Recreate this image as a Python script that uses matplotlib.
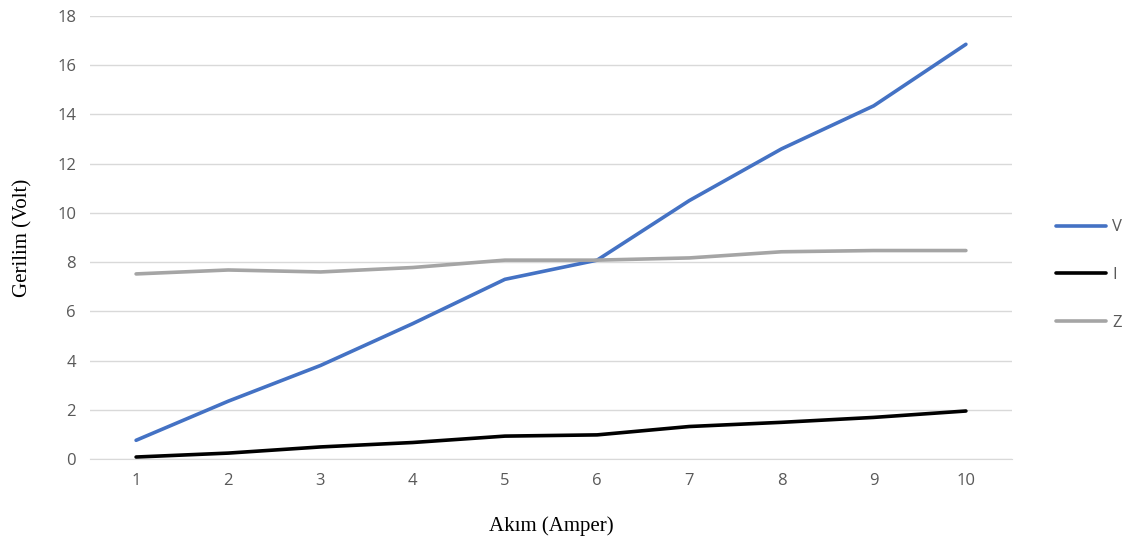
import matplotlib.pyplot as plt

# akim degerleri (x) ve olculen seriler
akim = [1, 2, 3, 4, 5, 6, 7, 8, 9, 10]
V = [0.76, 2.35, 3.8, 5.5, 7.3, 8.08, 10.5, 12.6, 14.35, 16.85]
I = [0.08, 0.24, 0.49, 0.67, 0.93, 0.98, 1.32, 1.49, 1.69, 1.95]
Z = [7.52, 7.68, 7.6, 7.78, 8.08, 8.08, 8.17, 8.42, 8.47, 8.47]
yticks = [0, 2, 4, 6, 8, 10, 12, 14, 16, 18]

fig = plt.figure(figsize=(11.33, 5.47), dpi=100)
ax = fig.add_axes([90/1133, 1 - 459/547, 922/1133, 443/547])

ax.plot(akim, V, color='#4472C4', lw=2.6, label='V', solid_capstyle='round')
ax.plot(akim, I, color='black', lw=2.6, label='I', solid_capstyle='round')
ax.plot(akim, Z, color='#A5A5A5', lw=2.6, label='Z', solid_capstyle='round')

ax.set_xlim(0.5, 10.5)
ax.set_ylim(0, 18)
ax.set_xticks(akim)
ax.set_yticks(yticks)
ax.grid(axis='y', color='#D9D9D9', lw=1)
ax.set_axisbelow(True)
for s in ['top', 'right', 'left']:
    ax.spines[s].set_visible(False)
ax.spines['bottom'].set_color('#D9D9D9')
ax.tick_params(length=0, labelsize=12, labelcolor='#595959', pad=10)
for lab in ax.get_xticklabels() + ax.get_yticklabels():
    lab.set_family('Open Sans')

ax.set_xlabel('Akım (Amper)', family='Liberation Serif', fontsize=15, labelpad=20)
ax.set_ylabel('Gerilim (Volt)', family='Liberation Serif', fontsize=15, labelpad=18)

leg = fig.legend(loc='center left', bbox_to_anchor=(1048/1133, 1 - 275/547), frameon=False,
                 handlelength=3.0, handletextpad=0.35, labelspacing=1.9, borderpad=0,
                 prop={'family': 'Open Sans', 'size': 12})
for t in leg.get_texts():
    t.set_color('#595959')

fig.savefig('out.png', dpi=100)
